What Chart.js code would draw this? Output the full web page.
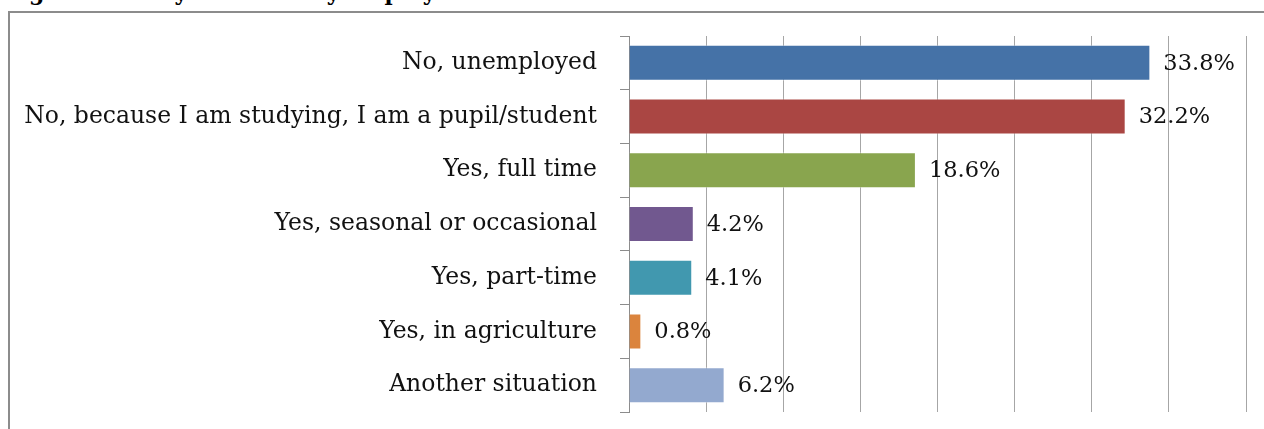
<!DOCTYPE html>
<html>
<head>
<meta charset="utf-8">
<script src="https://cdn.jsdelivr.net/npm/chart.js@4.4.1/dist/chart.umd.min.js"></script>
<style>
  html, body { margin: 0; padding: 0; background: #fff; overflow: hidden; }
  #wrap { position: relative; width: 1264px; height: 429px; }
  #title {
    position: absolute; left: 5px; top: -21px; white-space: nowrap;
    font: bold 22px "DejaVu Serif", serif; line-height: 26px; color: #000;
  }
  #frame {
    position: absolute; left: 8px; top: 11px; width: 1300px; height: 500px;
    border: 2px solid #8c8c8c; box-sizing: border-box;
  }
  canvas { position: absolute; left: 0; top: 0; }
</style>
</head>
<body>
<div id="wrap">
  <div id="title">Figure 5. Are you currently employed?</div>
  <div id="frame"></div>
  <canvas id="chart" width="1264" height="429"></canvas>
</div>
<script>
'use strict';

const categories = [
  'No, unemployed',
  'No, because I am studying, I am a pupil/student',
  'Yes, full time',
  'Yes, seasonal or occasional',
  'Yes, part-time',
  'Yes, in agriculture',
  'Another situation',
];
const values = [33.8, 32.2, 18.6, 4.2, 4.1, 0.8, 6.2];
const barColors = ['#4572A7', '#AA4643', '#89A54E', '#71588F', '#4198AF', '#DB843D', '#93A9CF'];
const xTicks = [0, 5, 10, 15, 20, 25, 30, 35, 40];

const serif = '"DejaVu Serif", "Liberation Serif", serif';

// value labels to the right of each bar
const barLabels = {
  id: 'barLabels',
  afterDatasetsDraw(chart) {
    const ctx = chart.ctx;
    const meta = chart.getDatasetMeta(0);
    ctx.save();
    ctx.font = '22.5px ' + serif;
    ctx.fillStyle = '#111';
    ctx.textAlign = 'left';
    ctx.textBaseline = 'middle';
    meta.data.forEach((bar, i) => {
      ctx.fillText(values[i].toFixed(1) + '%', bar.x + 13, bar.y + 1);
    });
    ctx.restore();
  },
};

new Chart(document.getElementById('chart').getContext('2d'), {
  type: 'bar',
  data: {
    labels: categories,
    datasets: [{
      data: values,
      backgroundColor: barColors,
      borderColor: 'rgba(255,255,255,0.45)',
      borderWidth: 1,
      categoryPercentage: 1,
      barPercentage: 0.67,
    }],
  },
  options: {
    indexAxis: 'y',
    responsive: false,
    animation: false,
    layout: { padding: { top: 36, bottom: 17, right: 18, left: 0 } },
    plugins: { legend: { display: false }, tooltip: { enabled: false } },
    scales: {
      x: {
        min: 0,
        max: 40,
        afterBuildTicks: (scale) => { scale.ticks = xTicks.map(v => ({ value: v })); },
        afterFit: (scale) => {
          scale.height = 0;
          scale.paddingLeft = 0;
          scale.paddingRight = 0;
        },
        ticks: { display: false },
        grid: { color: '#a6a6a6', lineWidth: 1, drawTicks: false },
        border: { display: false },
      },
      y: {
        afterFit: (scale) => {
          scale.width = 629;
          scale.paddingTop = 0;
          scale.paddingBottom = 0;
        },
        ticks: {
          color: '#111',
          font: { family: serif, size: 23.5 },
          padding: 23,
        },
        grid: { drawOnChartArea: false, color: '#8c8c8c', tickLength: 9 },
        border: { color: '#8c8c8c', width: 1 },
      },
    },
  },
  plugins: [barLabels],
});
</script>
</body>
</html>
